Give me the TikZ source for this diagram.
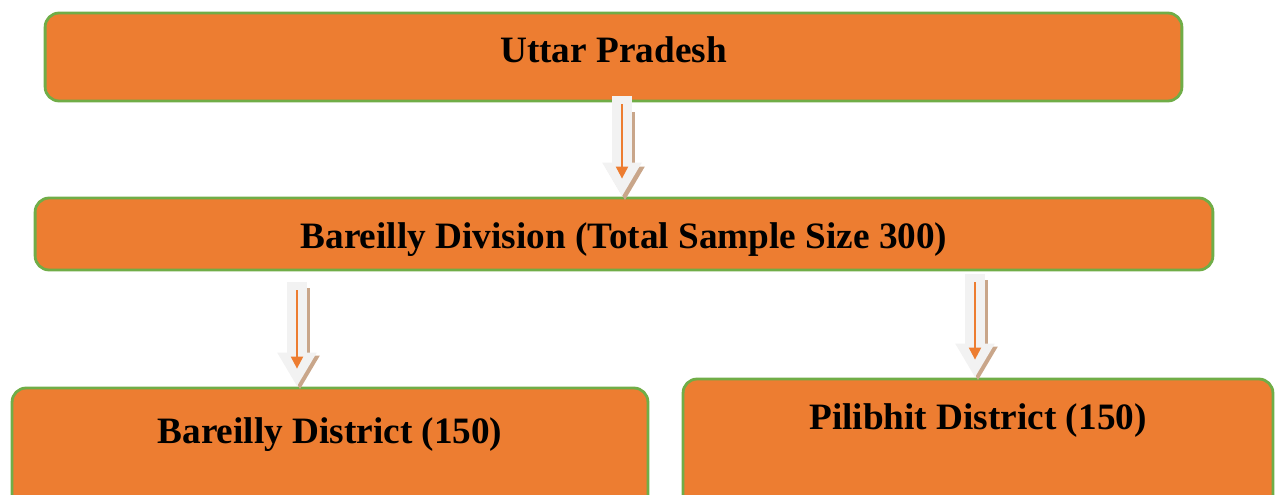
\documentclass[tikz,border=0pt]{standalone}
\usepackage{fontspec}
\setmainfont{Liberation Serif}
\usetikzlibrary{arrows.meta}
\definecolor{boxorange}{HTML}{ED7D31}
\definecolor{boxgreen}{HTML}{70AD47}
\definecolor{arrowgray}{HTML}{F2F2F2}
\definecolor{shadowtan}{HTML}{C9A68A}
\tikzset{
  box/.style={draw=boxgreen, line width=1.6pt, fill=boxorange, rounded corners=0.28cm, inner sep=0pt},
  lbl/.style={font=\bfseries\fontsize{21.2}{25}\selectfont, inner sep=0pt},
  fatarrow/.style={draw=arrowgray, line width=0.4cm, line cap=butt, -{Triangle[width=0.74cm, length=0.68cm]}},
  fatshadow/.style={draw=shadowtan, line width=0.4cm, line cap=butt, shorten <=0.12cm, -{Triangle[width=0.74cm, length=0.68cm]}},
  thinarrow/.style={draw=boxorange, line width=1.2pt, shorten <=0.16cm, shorten >=0.36cm, -{Triangle[width=0.24cm, length=0.24cm]}}
}
\begin{document}
\begin{tikzpicture}[x=0.02cm, y=-0.02cm]
    \useasboundingbox (0,0) rectangle (1275,494);

    % boxes
    \node[box, minimum width=22.74cm, minimum height=1.76cm] (up) at (613.5,57) {};
    \node[box, minimum width=23.56cm, minimum height=1.44cm] (div) at (624,234) {};
    \node[box, minimum width=12.72cm, minimum height=2.54cm] (bly) at (330,451.5) {};
    \node[box, minimum width=11.8cm, minimum height=2.72cm] (pbt) at (978,447) {};

    % texts
    \node[lbl] (tup) at ([yshift=0.14cm]up.center) {Uttar Pradesh};
    \node[lbl] (tdiv) at ([yshift=-0.12cm]div.center) {Bareilly Division (Total Sample Size 300)};
    \node[lbl] (tbly) at ([yshift=0.34cm]bly.center) {Bareilly District (150)};
    \node[lbl] (tpbt) at ([yshift=0.52cm]pbt.center) {Pilibhit District (150)};

    % arrows
    \coordinate (a1) at (622,0);
    \coordinate (a2) at (297,0);
    \coordinate (a3) at (975,0);

    \draw[fatshadow] ([shift={(3,4)}]up.south -| a1) -- ([shift={(3,4)}]div.north -| a1);
    \draw[fatarrow] ([yshift=0.12cm]up.south -| a1) -- (div.north -| a1);
    \draw[thinarrow] ([yshift=0.12cm]up.south -| a1) -- (div.north -| a1);

    \draw[fatshadow] ([shift={(3,11)}]div.south -| a2) -- ([shift={(3,3)}]bly.north -| a2);
    \draw[fatarrow] ([yshift=-0.22cm]div.south -| a2) -- (bly.north -| a2);
    \draw[thinarrow] ([yshift=-0.22cm]div.south -| a2) -- (bly.north -| a2);

    \draw[fatshadow] ([shift={(3,3)}]div.south -| a3) -- ([shift={(3,3)}]pbt.north -| a3);
    \draw[fatarrow] ([yshift=-0.06cm]div.south -| a3) -- (pbt.north -| a3);
    \draw[thinarrow] ([yshift=-0.06cm]div.south -| a3) -- (pbt.north -| a3);

\end{tikzpicture}
\end{document}
